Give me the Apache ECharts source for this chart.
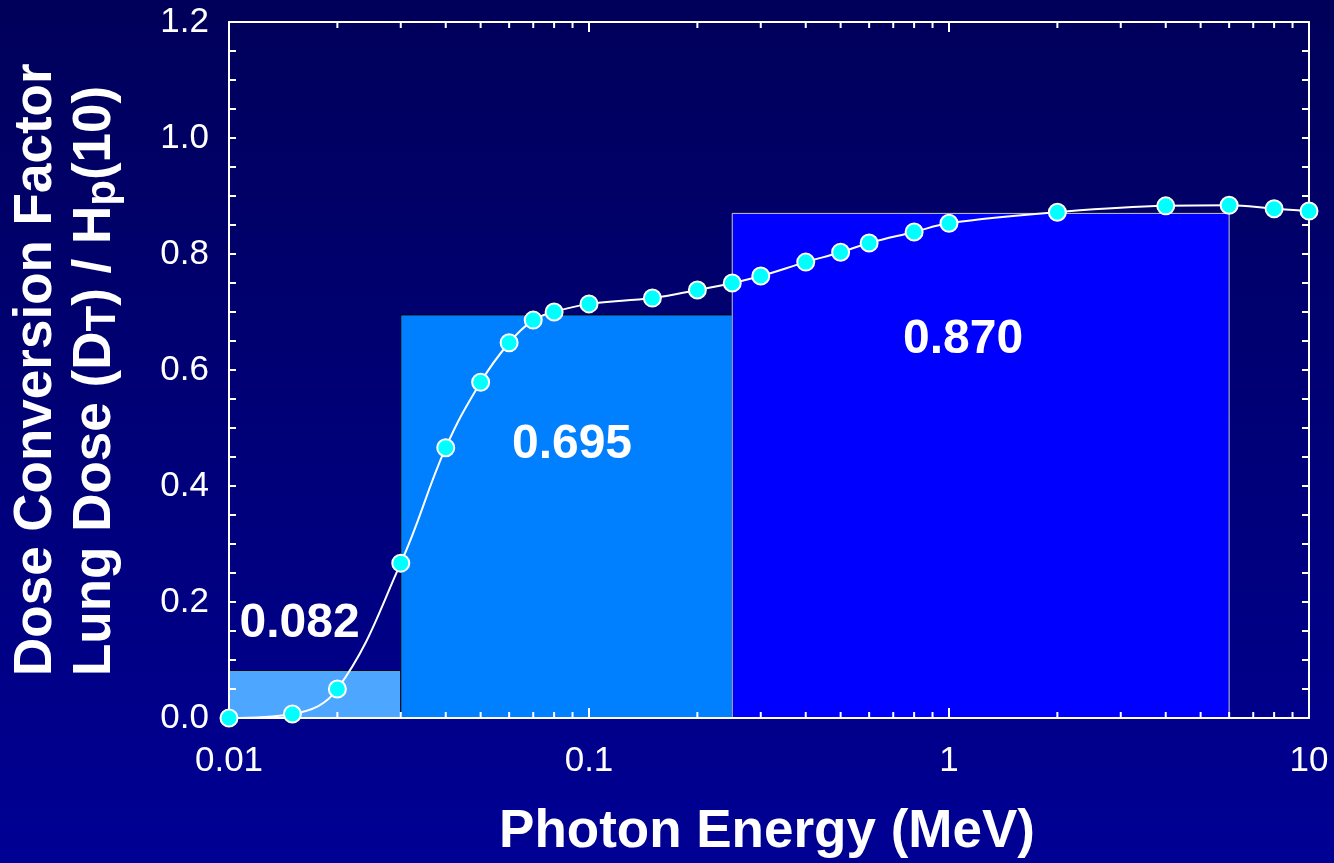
<!DOCTYPE html>
<html>
<head>
<meta charset="utf-8">
<script src="https://cdn.jsdelivr.net/npm/echarts@6/dist/echarts.min.js"></script>
<style>
  html, body { margin: 0; padding: 0; }
  #chart { width: 1334px; height: 863px; }
</style>
</head>
<body>
<div id="chart"></div>
<script>
// photon energy (MeV) and lung dose / Hp(10)
var energy = [0.01, 0.015, 0.02, 0.03, 0.04, 0.05, 0.06, 0.07, 0.08, 0.1, 0.15, 0.2, 0.25, 0.3,
              0.4, 0.5, 0.6, 0.8, 1, 2, 4, 6, 8, 10];
var factor = [0.000, 0.007, 0.050, 0.267, 0.466, 0.579, 0.647, 0.686, 0.700, 0.714, 0.724, 0.738, 0.750, 0.762,
              0.786, 0.803, 0.819, 0.838, 0.853, 0.872, 0.883, 0.884, 0.878, 0.874];

// averaged bands
var bandStart = [0.01, 0.03, 0.25];
var bandEnd = [0.03, 0.25, 6];
var bandValue = [0.082, 0.695, 0.870];
var bandLabelX = [0.0157, 0.0897, 1.094];
var bandLabelY = [0.162, 0.471, 0.652];
var bandColors = ['#4da6ff', '#0080ff', '#0000ff'];
var bandBorders = ['#000000', '#000000', '#c8c8c8'];

// log minor ticks
var minorTicks = [0.02, 0.03, 0.04, 0.05, 0.06, 0.07, 0.08, 0.09,
                  0.2, 0.3, 0.4, 0.5, 0.6, 0.7, 0.8, 0.9,
                  2, 3, 4, 5, 6, 7, 8, 9];

var yMin = 0, yMax = 1.2;
var font = '"Liberation Sans", Arial, sans-serif';

var chart = echarts.init(document.getElementById('chart'));

var option = {
  animation: false,
  backgroundColor: {
    type: 'linear', x: 0, y: 0, x2: 0, y2: 1,
    colorStops: [{ offset: 0, color: '#00005a' }, { offset: 1, color: '#000094' }]
  },
  grid: { left: 229, right: 25, top: 22, bottom: 145 },
  xAxis: [{
    type: 'log', logBase: 10, min: 0.01, max: 10, z: 5,
    axisLine: { onZero: false, lineStyle: { color: '#fff', width: 2 } },
    axisTick: { inside: true, length: 10, lineStyle: { color: '#fff', width: 2 } },
    splitLine: { show: false },
    axisLabel: {
      color: '#fff', fontSize: 35, fontFamily: font, margin: 26,
      formatter: function (v) { return String(parseFloat(v.toPrecision(6))); }
    }
  }, {
    type: 'log', logBase: 10, min: 0.01, max: 10, position: 'top', z: 5,
    axisLine: { onZero: false, lineStyle: { color: '#fff', width: 2 } },
    axisTick: { inside: true, length: 10, lineStyle: { color: '#fff', width: 2 } },
    splitLine: { show: false },
    axisLabel: { show: false }
  }],
  yAxis: [{
    type: 'value', min: yMin, max: yMax, interval: 0.2, z: 5,
    axisLine: { show: true, onZero: false, lineStyle: { color: '#fff', width: 2 } },
    axisTick: { show: true, inside: true, length: 7, lineStyle: { color: '#fff', width: 2 } },
    minorTick: { show: true, splitNumber: 4, length: 7, lineStyle: { color: '#fff', width: 2 } },
    splitLine: { show: false },
    axisLabel: {
      color: '#fff', fontSize: 35, fontFamily: font, margin: 20,
      formatter: function (v) { return v.toFixed(1); }
    }
  }, {
    type: 'value', min: yMin, max: yMax, interval: 0.2, position: 'right', z: 5,
    axisLine: { show: true, onZero: false, lineStyle: { color: '#fff', width: 2 } },
    axisTick: { show: true, inside: true, length: 7, lineStyle: { color: '#fff', width: 2 } },
    minorTick: { show: true, splitNumber: 4, length: 7, lineStyle: { color: '#fff', width: 2 } },
    splitLine: { show: false },
    axisLabel: { show: false }
  }],
  graphic: [{
    type: 'text', x: 36, y: 676, rotation: Math.PI / 2,
    style: {
      text: 'Dose Conversion Factor', fill: '#fff',
      font: 'bold 53px ' + font, align: 'left', verticalAlign: 'middle'
    }
  }, {
    type: 'text', x: 95, y: 676, rotation: Math.PI / 2,
    style: {
      text: 'Lung Dose (D{sub|T}) / H{sub|p}(10)', fill: '#fff',
      font: 'bold 53px ' + font, align: 'left', verticalAlign: 'middle',
      lineHeight: 58,
      rich: {
        sub: { font: 'bold 42px ' + font, fill: '#fff', verticalAlign: 'bottom', lineHeight: 30 }
      }
    }
  }, {
    type: 'text', x: 767, y: 832,
    style: {
      text: 'Photon Energy (MeV)', fill: '#fff',
      font: 'bold 53px ' + font, align: 'center', verticalAlign: 'middle'
    }
  }],
  series: [{
    type: 'custom', z: 1,
    encode: { x: [0, 1], y: 2 },
    data: bandStart.map(function (s, i) {
      return [s, bandEnd[i], bandValue[i], bandLabelX[i], bandLabelY[i]];
    }),
    renderItem: function (params, api) {
      var i = params.dataIndex;
      var p0 = api.coord([api.value(0), api.value(2)]);
      var p1 = api.coord([api.value(1), yMin]);
      var pl = api.coord([api.value(3), api.value(4)]);
      return {
        type: 'group',
        children: [{
          type: 'rect',
          shape: { x: p0[0], y: p0[1], width: p1[0] - p0[0], height: p1[1] - p0[1] },
          style: { fill: bandColors[i], stroke: bandBorders[i], lineWidth: 1 }
        }, {
          type: 'text', x: pl[0], y: pl[1],
          style: {
            text: bandValue[i].toFixed(3), fill: '#fff',
            font: 'bold 48px ' + font, align: 'center', verticalAlign: 'middle'
          }
        }]
      };
    }
  }, {
    type: 'custom', z: 6,
    data: minorTicks.map(function (v) { return [v, yMin]; }),
    renderItem: function (params, api) {
      var b = api.coord([api.value(0), yMin]);
      var t = api.coord([api.value(0), yMax]);
      var st = { stroke: '#fff', lineWidth: 2 };
      return {
        type: 'group',
        children: [
          { type: 'line', shape: { x1: b[0], y1: b[1], x2: b[0], y2: b[1] - 6 }, style: st },
          { type: 'line', shape: { x1: t[0], y1: t[1], x2: t[0], y2: t[1] + 6 }, style: st }
        ]
      };
    }
  }, {
    type: 'line', z: 8, clip: false,
    data: energy.map(function (e, i) { return [e, factor[i]]; }),
    smooth: 0.4,
    symbol: 'circle', symbolSize: 17,
    lineStyle: { color: '#fff', width: 2 },
    itemStyle: { color: '#00ffff', borderColor: '#fff', borderWidth: 2 }
  }]
};

chart.setOption(option);
</script>
</body>
</html>
